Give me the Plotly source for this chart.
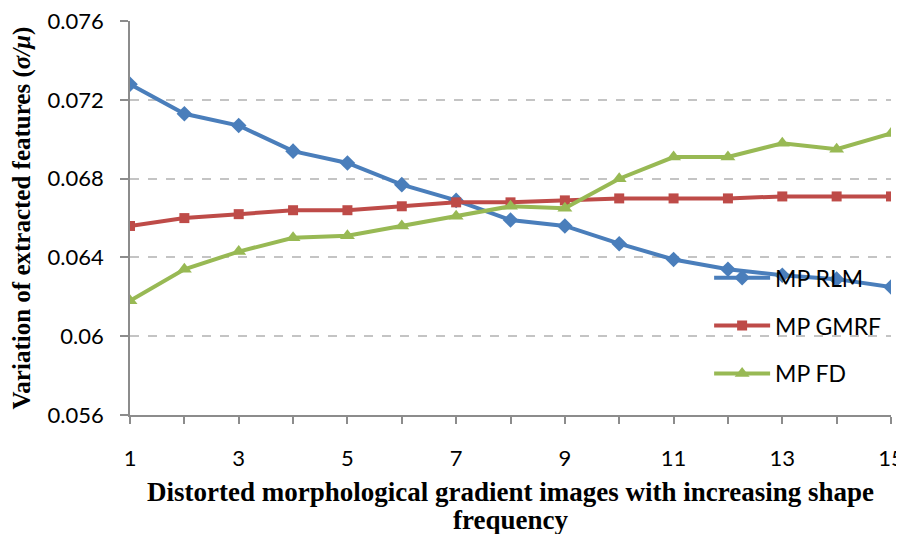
import plotly.graph_objects as go

frequency = list(range(1, 16))
mp_rlm = [0.0728, 0.0713, 0.0707, 0.0694, 0.0688, 0.0677, 0.0669, 0.0659,
          0.0656, 0.0647, 0.0639, 0.0634, 0.0631, 0.0629, 0.0625]
mp_gmrf = [0.0656, 0.0660, 0.0662, 0.0664, 0.0664, 0.0666, 0.0668, 0.0668,
           0.0669, 0.0670, 0.0670, 0.0670, 0.0671, 0.0671, 0.0671]
mp_fd = [0.0618, 0.0634, 0.0643, 0.0650, 0.0651, 0.0656, 0.0661, 0.0666,
         0.0665, 0.0680, 0.0691, 0.0691, 0.0698, 0.0695, 0.0703]
y_ticks = [0.056, 0.06, 0.064, 0.068, 0.072, 0.076]
x_ticks = [1, 3, 5, 7, 9, 11, 13, 15]
x_title = ["Distorted morphological gradient images with increasing shape", "frequency"]

series = [
    ("MP RLM", mp_rlm, "#4a7ebb", "diamond", 12),
    ("MP GMRF", mp_gmrf, "#be4b48", "square", 10),
    ("MP FD", mp_fd, "#98b954", "triangle-up", 13),
]

fig = go.Figure()
for i, (name, vals, color, sym, size) in enumerate(series):
    fig.add_trace(go.Scatter(
        x=frequency, y=vals, name=name, mode="lines+markers",
        legendgroup=str(i),
        line=dict(color=color, width=4),
        marker=dict(symbol=sym, size=size, color=color),
    ))

tick_font = dict(family="Lato, Open Sans, sans-serif", size=22, color="#000000")
legend_font = dict(family="Lato, Open Sans, sans-serif", size=23, color="#000000")
serif = "Liberation Serif, Times New Roman, serif"

# x title drawn as two annotations so the line spacing can be tighter
for line, ypos in zip(x_title, [-0.1954, -0.2665]):
    fig.add_annotation(
        text=f"<b>{line}</b>", xref="paper", yref="paper",
        x=0.5, y=ypos, xanchor="center", yanchor="middle", showarrow=False,
        font=dict(family=serif, size=27, color="#000000"),
    )

# page body has an 8px margin, so the figure is shrunk by 8px to fit the window
fig.update_layout(
    width=896, height=526,
    paper_bgcolor="white", plot_bgcolor="white",
    margin=dict(l=122, r=13, t=13, b=119),
    showlegend=True,
    legend=dict(
        x=0.761, y=0.403, xanchor="left", yanchor="top",
        bgcolor="rgba(0,0,0,0)", font=legend_font,
        traceorder="grouped", tracegroupgap=15, itemwidth=56,
    ),
    xaxis=dict(
        range=[1, 15], tickmode="array", tickvals=x_ticks,
        ticktext=[str(v) for v in x_ticks],
        showgrid=False, zeroline=False, automargin=False,
        showline=True, linecolor="#8c8c8c", linewidth=1.5,
        ticks="outside", ticklen=7, tickcolor="#8c8c8c", tickwidth=1.5,
        minor=dict(dtick=1, ticks="outside", ticklen=7, tickcolor="#8c8c8c", tickwidth=1.5),
        tickfont=tick_font, ticklabelstandoff=16, ticklabeloverflow="allow",
    ),
    yaxis=dict(
        range=[0.056, 0.07601], tickmode="array", tickvals=y_ticks,
        ticktext=["0.056", "0.06", "0.064", "0.068", "0.072", "0.076"],
        showgrid=True, gridcolor="#c4c4c4", griddash="dash", gridwidth=1.5,
        zeroline=False, automargin=False,
        showline=True, linecolor="#8c8c8c", linewidth=1.5,
        ticks="outside", ticklen=8, tickcolor="#8c8c8c", tickwidth=1.5,
        tickfont=tick_font, ticklabelstandoff=12, ticklabeloverflow="allow",
        title=dict(
            text="<b>Variation of extracted features (<i>σ/μ</i>)</b>",
            font=dict(family=serif, size=25, color="#000000"),
            standoff=20,
        ),
    ),
)

fig.write_html("out.html")
